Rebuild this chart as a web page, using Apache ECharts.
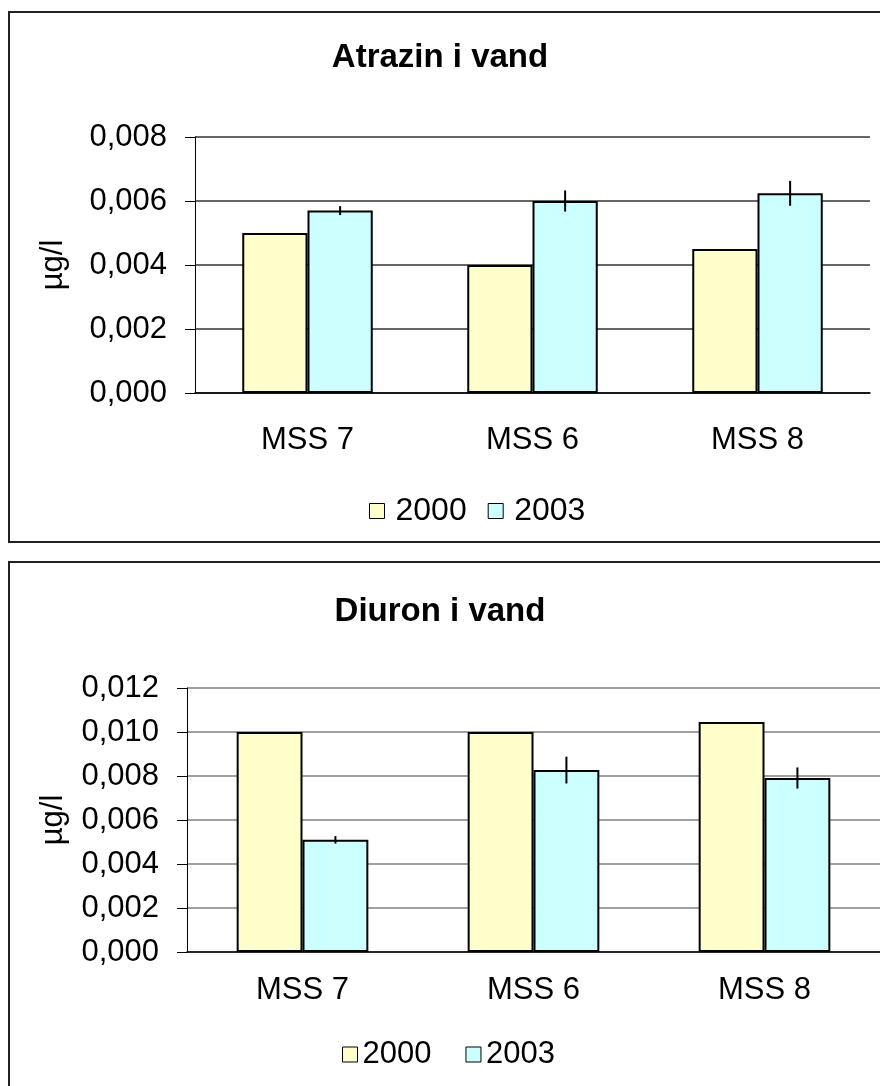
<!DOCTYPE html>
<html><head><meta charset="utf-8">
<script src="https://cdn.jsdelivr.net/npm/echarts@6/dist/echarts.min.js"></script>
<style>html,body{margin:0;padding:0;background:#fff}#c{width:880px;height:1086px}</style>
</head><body><div id="c"></div>
<script>
const categories = ['MSS 7', 'MSS 6', 'MSS 8'];
const seriesNames = ['2000', '2003'];
const atrazin2000 = [0.0050, 0.0040, 0.0045];
const atrazin2003 = [0.0057, 0.0060, 0.00624];
const atrazinErr2003 = [0.00014, 0.00033, 0.00039];
const diuron2000 = [0.0100, 0.0100, 0.01045];
const diuron2003 = [0.0051, 0.00827, 0.00791];
const diuronErr2003 = [0.00017, 0.00061, 0.00048];
const titles = ['Atrazin i vand', 'Diuron i vand'];
const yName = 'µg/l';

const FONT = 'Liberation Sans, Arial, sans-serif';
const FS = 31;
const C2000 = '#FFFFCC', C2003 = '#CCFFFF';
const gaps = [0.42, 0.43];

function errRender(gridIdx) {
  return function (params, api) {
    const x = api.value(0), v = api.value(1), e = api.value(2);
    const c = api.coord([x, v]);
    const band = api.size([1, 0])[0];
    const off = band * (1 - gaps[gridIdx]) / 4;
    const t = api.coord([x, v + e]);
    const b = api.coord([x, v - e]);
    return {type: 'line', shape: {x1: c[0] + off, y1: t[1], x2: c[0] + off, y2: b[1]},
      style: {stroke: '#000', lineWidth: 2}};
  };
}

const fmt = v => v.toFixed(3).replace('.', ',');

function yAxis(gridIndex, max, nameGap, gridColor) {
  return {type: 'value', gridIndex, min: 0, max, interval: 0.002,
    name: yName, nameLocation: 'middle', nameGap, nameRotate: 90,
    nameTextStyle: {fontFamily: FONT, fontSize: FS, color: '#000'},
    axisLine: {show: true, lineStyle: {color: '#000', width: 1}},
    axisTick: {show: true, length: 10, lineStyle: {color: '#000'}},
    axisLabel: {formatter: fmt, fontFamily: FONT, fontSize: FS, color: '#000', margin: 28},
    splitLine: {show: true, lineStyle: {color: gridColor, width: 1.5}}};
}
function xAxis(gridIndex, margin) {
  return {type: 'category', gridIndex, data: categories,
    axisLine: {lineStyle: {color: '#000', width: 1.5}},
    axisTick: {length: 10, lineStyle: {color: '#000'}},
    axisLabel: {fontFamily: FONT, fontSize: FS, color: '#000', margin}};
}
function bars(name, data, color, idx, gap) {
  return {type: 'bar', name, data, xAxisIndex: idx, yAxisIndex: idx,
    barGap: '0%', barCategoryGap: (gap * 100) + '%',
    itemStyle: {color, borderColor: '#000', borderWidth: 2}};
}

const chart = echarts.init(document.getElementById('c'), null, {renderer: 'canvas'});
chart.setOption({
  animation: false,
  graphic: [
    {type: 'rect', shape: {x: 9, y: 12, width: 900, height: 530}, style: {fill: 'none', stroke: '#222', lineWidth: 2}, z: -1},
    {type: 'rect', shape: {x: 9, y: 562, width: 900, height: 600}, style: {fill: 'none', stroke: '#222', lineWidth: 2}, z: -1}
  ],
  title: [
    {text: titles[0], left: 'center', top: 36, textStyle: {fontFamily: FONT, fontSize: 33, fontWeight: 'bold', color: '#000'}},
    {text: titles[1], left: 'center', top: 590, textStyle: {fontFamily: FONT, fontSize: 33, fontWeight: 'bold', color: '#000'}}
  ],
  legend: [
    {data: seriesNames, left: 369, top: 495, padding: 0, itemWidth: 15, itemHeight: 15, itemGap: 21,
      icon: 'rect', itemStyle: {borderColor: '#000', borderWidth: 1},
      textStyle: {fontFamily: FONT, fontSize: 32, color: '#000', padding: [0, 0, 0, 6]}},
    {data: seriesNames, left: 342, top: 1039, padding: 0, itemWidth: 15, itemHeight: 15, itemGap: 34,
      icon: 'rect', itemStyle: {borderColor: '#000', borderWidth: 1},
      textStyle: {fontFamily: FONT, fontSize: FS, color: '#000'}}
  ],
  grid: [
    {left: 195, right: 10, top: 137, height: 256},
    {left: 187, right: -3, top: 688, height: 264}
  ],
  xAxis: [xAxis(0, 32), xAxis(1, 23)],
  yAxis: [yAxis(0, 0.008, 126, '#333'), yAxis(1, 0.012, 118, '#808080')],
  series: [
    bars('2000', atrazin2000, C2000, 0, gaps[0]),
    bars('2003', atrazin2003, C2003, 0, gaps[0]),
    {type: 'custom', xAxisIndex: 0, yAxisIndex: 0, z: 10, renderItem: errRender(0),
      data: categories.map((c, i) => [i, atrazin2003[i], atrazinErr2003[i]])},
    bars('2000', diuron2000, C2000, 1, gaps[1]),
    bars('2003', diuron2003, C2003, 1, gaps[1]),
    {type: 'custom', xAxisIndex: 1, yAxisIndex: 1, z: 10, renderItem: errRender(1),
      data: categories.map((c, i) => [i, diuron2003[i], diuronErr2003[i]])}
  ]
});
</script></body></html>
